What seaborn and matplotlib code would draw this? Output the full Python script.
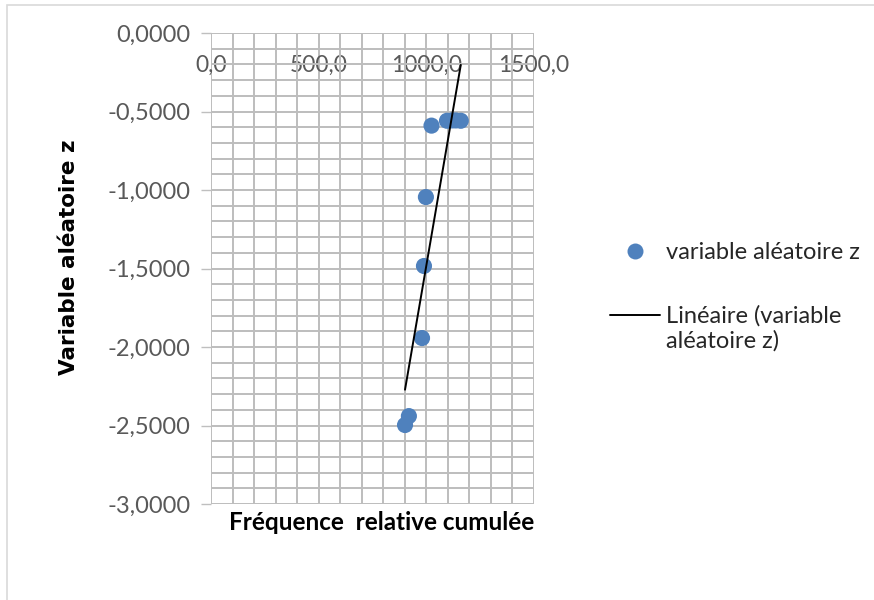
import matplotlib
matplotlib.use("Agg")
import numpy as np
import matplotlib.pyplot as plt
import matplotlib.patches as mpatches
from matplotlib.ticker import MultipleLocator, FuncFormatter
from matplotlib.lines import Line2D
from matplotlib.legend_handler import HandlerLine2D
import seaborn as sns
import pandas as pd

# Cumulative relative frequency (x) and random variable z (y)
freq_cumulee = [901, 919, 980, 989, 998, 1024, 1096, 1119, 1137, 1160]
variable_z = [-2.497, -2.440, -1.943, -1.484, -1.045, -0.590, -0.559, -0.557, -0.557, -0.559]

x_ticks = [0, 500, 1000, 1500]
y_ticks = [0, -0.5, -1.0, -1.5, -2.0, -2.5, -3.0]

df = pd.DataFrame({"x": freq_cumulee, "z": variable_z})

sns.set_theme(style="white")
plt.rcParams["font.family"] = ["Lato", "DejaVu Sans"]

fig = plt.figure(figsize=(8.74, 6.0), dpi=100)
ax = fig.add_axes([211 / 874, 1 - 504 / 600, 323 / 874, 471 / 600])

# outer chart frame
fig.patches.append(mpatches.Rectangle((7 / 874, -0.1), 1.2, 1 - 5 / 600 + 0.1,
                                      transform=fig.transFigure, fill=False,
                                      edgecolor="#d9d9d9", lw=1.2, zorder=0))

blue = "#4F81BD"
sns.scatterplot(data=df, x="x", y="z", ax=ax, color=blue, s=135,
                edgecolor="none", zorder=3, legend=False)
sns.regplot(data=df, x="x", y="z", ax=ax, scatter=False, ci=None, truncate=True,
            line_kws={"color": "black", "lw": 1.4, "zorder": 4})

ax.set_xlim(0, 1500)
ax.set_ylim(-3, 0)

ax.xaxis.set_minor_locator(MultipleLocator(100))
ax.yaxis.set_minor_locator(MultipleLocator(0.1))
ax.set_xticks(x_ticks)
ax.set_yticks(y_ticks)

ax.xaxis.set_major_formatter(FuncFormatter(lambda v, p: f"{v:.1f}".replace(".", ",")))
ax.yaxis.set_major_formatter(FuncFormatter(lambda v, p: f"{v:.4f}".replace(".", ",")))

ax.grid(which="both", color="#bdbdbd", lw=1.4)
ax.set_axisbelow(True)
for s in ax.spines.values():
    s.set_visible(False)

# x-axis crosses at z = 0: labels sit just under the top edge
ax.xaxis.set_ticks_position("top")
ax.tick_params(axis="x", which="both", length=0, labelsize=16.5, labelcolor="#595959",
               pad=-31)
ax.tick_params(axis="y", which="major", length=7, width=1, color="#bfbfbf", left=True,
               labelsize=17, labelcolor="#595959", pad=8)
ax.tick_params(axis="y", which="minor", length=0)

ax.set_xlabel("")
ax.set_ylabel("")
fig.text(69 / 874, 1 - 257 / 600, "Variable aléatoire z", rotation=90, ha="center",
         va="center", fontsize=15.5, fontweight="bold", color="black",
         family="DejaVu Sans")
fig.text(382 / 874, 1 - 522 / 600, "Fréquence  relative cumulée", ha="center",
         va="center", fontsize=17.5, fontweight="bold", color="black")


class RaisedLineHandler(HandlerLine2D):
    """Line handle aligned with the first line of a two-line label."""

    def __init__(self, shift, **kw):
        super().__init__(**kw)
        self.shift = shift

    def create_artists(self, legend, orig_handle, xdescent, ydescent, width, height,
                       fontsize, trans):
        artists = super().create_artists(legend, orig_handle, xdescent, ydescent,
                                         width, height, fontsize, trans)
        for a in artists:
            a.set_ydata(np.asarray(a.get_ydata()) + self.shift)
        return artists


handles = [
    Line2D([], [], marker="o", ls="none", color=blue, markersize=11.5, markeredgewidth=0),
    Line2D([], [], color="black", lw=1.4),
]
labels = ["variable aléatoire z", "Linéaire (variable\naléatoire z)"]
fig.legend(handles, labels, loc="upper left", bbox_to_anchor=(601 / 874, 1 - 233 / 600),
           frameon=False, fontsize=17, handlelength=2.1, handletextpad=0.25,
           labelspacing=1.75, borderaxespad=0,
           handler_map={handles[1]: RaisedLineHandler(shift=9.5)})
plt.rcParams["text.antialiased"] = True

fig.savefig("out.png", dpi=100)
